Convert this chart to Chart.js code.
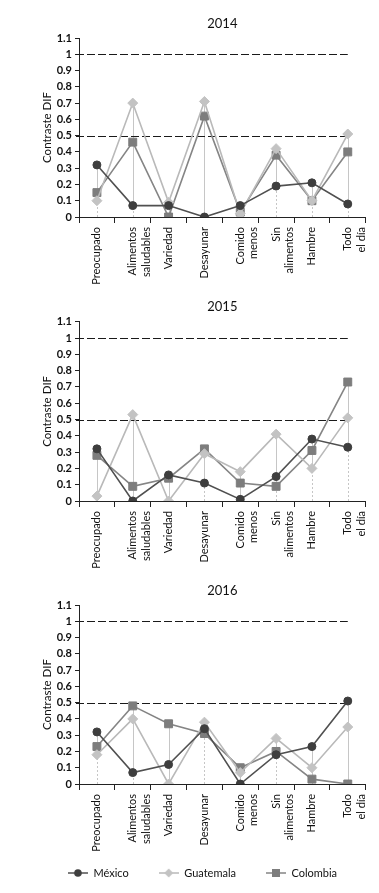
<!DOCTYPE html>
<html><head><meta charset="utf-8">
<script src="https://cdn.jsdelivr.net/npm/chart.js@4.4.0/dist/chart.umd.min.js"></script>
<style>
html,body{margin:0;padding:0;background:#fff;width:379px;height:893px;overflow:hidden}
.p{position:absolute;left:0;width:379px}
</style></head><body>
<div class="p" style="top:0;height:290px"><canvas id="c2014"></canvas></div>
<div class="p" style="top:290px;height:290px"><canvas id="c2015"></canvas></div>
<div class="p" style="top:580px;height:313px"><canvas id="c2016"></canvas></div>
<script>
// ---- data ----
const categories = ["Preocupado", ["Alimentos","saludables"], "Variedad", "Desayunar", ["Comido","menos"], ["Sin","alimentos"], "Hambre", ["Todo","el día"]];
const seriesNames = ["México","Guatemala","Colombia"];
const years = ["2014","2015","2016"];

const mexico2014    = [0.32,0.07,0.07,0.00,0.07,0.19,0.21,0.08];
const guatemala2014 = [0.10,0.70,0.09,0.71,0.02,0.42,0.10,0.51];
const colombia2014  = [0.15,0.46,0.00,0.62,0.03,0.38,0.10,0.40];

const mexico2015    = [0.32,0.00,0.16,0.11,0.01,0.15,0.38,0.33];
const guatemala2015 = [0.03,0.53,0.00,0.29,0.18,0.41,0.20,0.51];
const colombia2015  = [0.28,0.09,0.14,0.32,0.11,0.09,0.31,0.73];

const mexico2016    = [0.32,0.07,0.12,0.34,0.00,0.18,0.23,0.51];
const guatemala2016 = [0.18,0.40,0.00,0.38,0.07,0.28,0.10,0.35];
const colombia2016  = [0.23,0.48,0.37,0.31,0.10,0.20,0.03,0.00];

const yTicks = [0,0.1,0.2,0.3,0.4,0.5,0.6,0.7,0.8,0.9,1,1.1];
const yTickLabels = ["0","0.1","0.2","0.3","0.4","0.5","0.6","0.7","0.8","0.9","1","1.1"];
const refLines = [0.5, 1];

// ---- styles ----
const F = "Lato";
const TXT = "#111";
const styles = [
  {line:"#505050", fill:"#3e3e3e", point:"circle", r:4},
  {line:"#b9b9b9", fill:"#c3c3c3", point:"rectRot", r:5},
  {line:"#858585", fill:"#7d7d7d", point:"rect", r:5.6}
];

function legendIcon(s){
  const c = document.createElement('canvas');
  c.width = 20; c.height = 12;
  const g = c.getContext('2d');
  g.strokeStyle = s.line; g.lineWidth = 1.5;
  g.beginPath(); g.moveTo(0,6); g.lineTo(20,6); g.stroke();
  g.fillStyle = s.fill;
  g.beginPath();
  if (s.point === 'circle') { g.arc(10,6,3.8,0,Math.PI*2); }
  else if (s.point === 'rectRot') { g.moveTo(10,1.5); g.lineTo(14.5,6); g.lineTo(10,10.5); g.lineTo(5.5,6); g.closePath(); }
  else { g.rect(6,2,8,8); }
  g.fill();
  return c;
}

const guidePlugin = {
  id: 'guides',
  afterLayout(chart){
    // let the rotated category labels use the space down to the legend row
    const x = chart.scales.x;
    x.bottom = Math.max(x.bottom, x.top + 80);
  },
  beforeDatasetsDraw(chart){
    const {ctx, chartArea, scales:{x, y}} = chart;
    const n = chart.data.labels.length;
    const L = (x1,y1,x2,y2)=>{ctx.beginPath();ctx.moveTo(x1,y1);ctx.lineTo(x2,y2);ctx.stroke();};
    ctx.save();
    ctx.lineWidth = 1;
    for (let i=0;i<n;i++){
      const vals = chart.data.datasets.map(d=>d.data[i]);
      const mn = Math.min(...vals), mx = Math.max(...vals);
      const px = Math.round(x.getPixelForValue(i)) + 0.5;
      ctx.strokeStyle = '#c6c6c6';
      ctx.setLineDash([]);
      L(px, y.getPixelForValue(mn), px, y.getPixelForValue(mx));
      if (mn > 0){ ctx.setLineDash([2,2]); L(px, y.getPixelForValue(0), px, y.getPixelForValue(mn)); }
    }
    ctx.strokeStyle = '#1a1a1a';
    ctx.setLineDash([8,3]);
    refLines.forEach(v=>{
      const py = Math.round(y.getPixelForValue(v)) + 0.5;
      L(chartArea.left - 3, py, x.getPixelForValue(n-1), py);
    });
    ctx.restore();
  }
};

function makeChart(id, year, series, o){
  const datasets = series.map((d,k)=>({
    label: seriesNames[k],
    data: d,
    borderColor: styles[k].line,
    backgroundColor: styles[k].fill,
    pointBackgroundColor: styles[k].fill,
    pointBorderColor: styles[k].fill,
    pointStyle: styles[k].point,
    pointRadius: styles[k].r,
    pointBorderWidth: 1,
    borderWidth: 1.6,
    tension: 0,
    fill: false
  }));
  return new Chart(document.getElementById(id), {
    type: 'line',
    data: {labels: categories, datasets},
    options: {
      responsive: true, maintainAspectRatio: false, animation: false,
      layout: {padding: {left: 33, right: 7, top: 0, bottom: o.padB}},
      plugins: {
        title: {display: true, text: year, fullSize: false, color: TXT,
          font: {family: F, size: 13, weight: 'normal', lineHeight: 1.2}, padding: {top: o.tT, bottom: o.tB}},
        legend: {display: o.legend, position: 'bottom',
          labels: {usePointStyle: true, pointStyleWidth: 20, padding: 30, color: TXT,
            font: {family: F, size: 11},
            generateLabels: (chart)=>chart.data.datasets.map((d,k)=>({
              text: d.label, pointStyle: legendIcon(styles[k]), fillStyle: styles[k].fill,
              strokeStyle: styles[k].line, lineWidth: 0, fontColor: TXT, hidden: false, datasetIndex: k
            }))}},
        tooltip: {enabled: false}
      },
      scales: {
        x: {
          type: 'category', offset: true,
          grid: {display: true, drawOnChartArea: false, drawTicks: true, tickLength: 6, color: '#222', offset: true},
          border: {display: true, color: '#222', width: 1},
          ticks: {autoSkip: false, maxRotation: 90, minRotation: 90, padding: 4, color: TXT, font: {family: F, size: 11}},
          afterFit(s){ s.height = o.xH; }
        },
        y: {
          min: 0, max: 1.1,
          afterBuildTicks(s){ s.ticks = yTicks.map(v=>({value: v})); },
          ticks: {autoSkip: false, callback: (v,i)=>yTickLabels[i], padding: 3, color: TXT, font: {family: F, size: 11, weight: 'bold'}},
          grid: {display: true, drawOnChartArea: false, drawTicks: true, tickLength: 4, color: '#222'},
          border: {display: true, color: '#222', width: 1},
          title: {display: true, text: 'Contraste DIF', color: TXT, font: {family: F, size: 11.5}, padding: {top: 7.4, bottom: 0}},
          afterFit(s){ s.width = 46; }
        }
      }
    },
    plugins: [guidePlugin]
  });
}

makeChart('c2014', years[0], [mexico2014, guatemala2014, colombia2014], {padB: 0, tT: 16.2, tB: 6.2, xH: 73, legend: false});
makeChart('c2015', years[1], [mexico2015, guatemala2015, colombia2015], {padB: 0, tT: 9.2, tB: 6.9, xH: 79, legend: false});
makeChart('c2016', years[2], [mexico2016, guatemala2016, colombia2016], {padB: 4.5, tT: 3.2, tB: 6.2, xH: 53.5, legend: true});
</script>
</body></html>
